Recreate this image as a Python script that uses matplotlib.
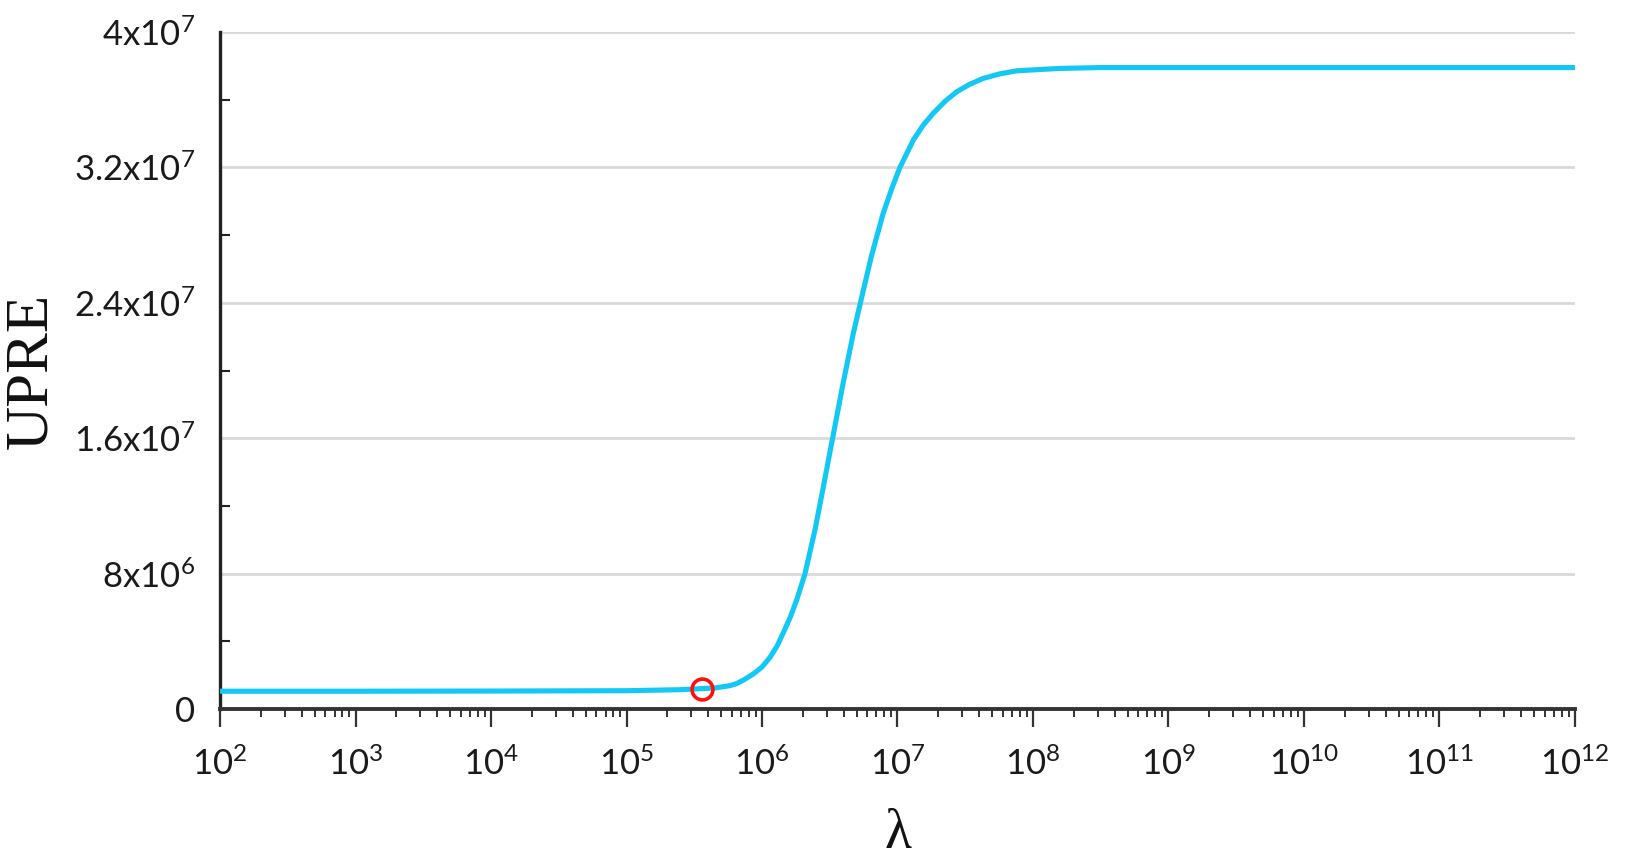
import matplotlib
matplotlib.use('Agg')
import matplotlib.pyplot as plt
import numpy as np
from matplotlib.ticker import FixedLocator, FixedFormatter, LogLocator, NullFormatter

# curve: log10(lambda) and UPRE
log_lam = [2.0, 3.0, 4.0, 5.0, 5.4, 5.55, 5.66, 5.764, 5.813, 5.87, 5.936, 6.0,
           6.059, 6.11, 6.157, 6.21, 6.256, 6.317, 6.391, 6.453, 6.502, 6.526,
           6.6, 6.674, 6.735, 6.809, 6.895, 6.96, 7.018, 7.117, 7.19, 7.264,
           7.35, 7.437, 7.53, 7.633, 7.75, 7.88, 8.199, 8.494, 9.0, 10.0, 11.0, 12.0]
upre = [1.05e6, 1.05e6, 1.06e6, 1.08e6, 1.14e6, 1.20e6, 1.25e6, 1.38e6, 1.50e6,
        1.74e6, 2.07e6, 2.48e6, 3.05e6, 3.7e6, 4.5e6, 5.45e6, 6.44e6, 7.98e6,
        1.058e7, 1.313e7, 1.52e7, 1.62e7, 1.93e7, 2.22e7, 2.43e7, 2.68e7,
        2.93e7, 3.08e7, 3.2e7, 3.362e7, 3.45e7, 3.52e7, 3.59e7, 3.647e7,
        3.69e7, 3.726e7, 3.752e7, 3.771e7, 3.785e7, 3.79e7, 3.79e7, 3.79e7,
        3.79e7, 3.79e7]

# optimum point marked with the red circle
lam_opt = 3.6e5
upre_opt = 1.2e6

y_ticks = [0, 8e6, 1.6e7, 2.4e7, 3.2e7, 4e7]
y_labels = ['0', r'$\mathregular{8x10^{6}}$', r'$\mathregular{1.6x10^{7}}$',
            r'$\mathregular{2.4x10^{7}}$', r'$\mathregular{3.2x10^{7}}$',
            r'$\mathregular{4x10^{7}}$']
y_minor = [4e6, 1.2e7, 2e7, 2.8e7, 3.6e7]
x_decades = list(range(2, 13))

plt.rcParams['mathtext.fontset'] = 'custom'
plt.rcParams['mathtext.rm'] = 'Lato'
plt.rcParams['font.family'] = ['Lato', 'DejaVu Sans']

fig = plt.figure(figsize=(16.25, 8.68), dpi=100)
ax = fig.add_axes([0.1354, 0.1832, 0.8338, 0.7799])

lam = 10 ** np.array(log_lam)
ax.plot(lam, upre, color='#14c8f5', lw=3.7, solid_capstyle='butt',
        solid_joinstyle='round', zorder=3)
ax.plot([lam_opt], [upre_opt], 'o', ms=15, mfc='none', mec='#ff1010', mew=2.6, zorder=4)

ax.set_xscale('log')
ax.set_xlim(1e2, 1e12)
ax.set_ylim(0, 4e7)

ax.yaxis.set_major_locator(FixedLocator(y_ticks))
ax.yaxis.set_major_formatter(FixedFormatter(y_labels))
ax.yaxis.set_minor_locator(FixedLocator(y_minor))
ax.yaxis.grid(True, which='major', color='#d9d9d9', lw=2, zorder=0)
ax.set_axisbelow(True)

ax.xaxis.set_major_locator(FixedLocator([10.0 ** d for d in x_decades]))
ax.xaxis.set_major_formatter(FixedFormatter([r'$\mathregular{10^{%d}}$' % d for d in x_decades]))
ax.xaxis.set_minor_locator(LogLocator(base=10, subs=np.arange(2, 10), numticks=100))
ax.xaxis.set_minor_formatter(NullFormatter())

ax.tick_params(axis='y', which='major', length=0, pad=18, labelsize=25, labelcolor='#1a1a1a')
ax.tick_params(axis='y', which='minor', direction='in', length=7, width=1.5, color='#222222')
ax.tick_params(axis='x', which='major', direction='out', length=13, width=1.6,
               color='#333333', pad=14, labelsize=25, labelcolor='#1a1a1a')
ax.tick_params(axis='x', which='minor', direction='out', length=6, width=1.4, color='#333333')

for s in ['top', 'right']:
    ax.spines[s].set_visible(False)
ax.spines['left'].set_color('#222222')
ax.spines['left'].set_linewidth(2.4)
ax.spines['bottom'].set_color('#333333')
ax.spines['bottom'].set_linewidth(2.8)

ax.set_ylabel('UPRE', family='Liberation Serif', fontsize=44, color='#111111')
ax.yaxis.set_label_coords(-0.1395, 0.5)
ax.set_xlabel('λ', family='Liberation Serif', fontsize=40, color='#111111')
ax.xaxis.set_label_coords(0.5, -0.185)
ax.xaxis.label.set_va('center')
ax.yaxis.label.set_va('center')

fig.savefig('out.png', dpi=100, facecolor='white')
